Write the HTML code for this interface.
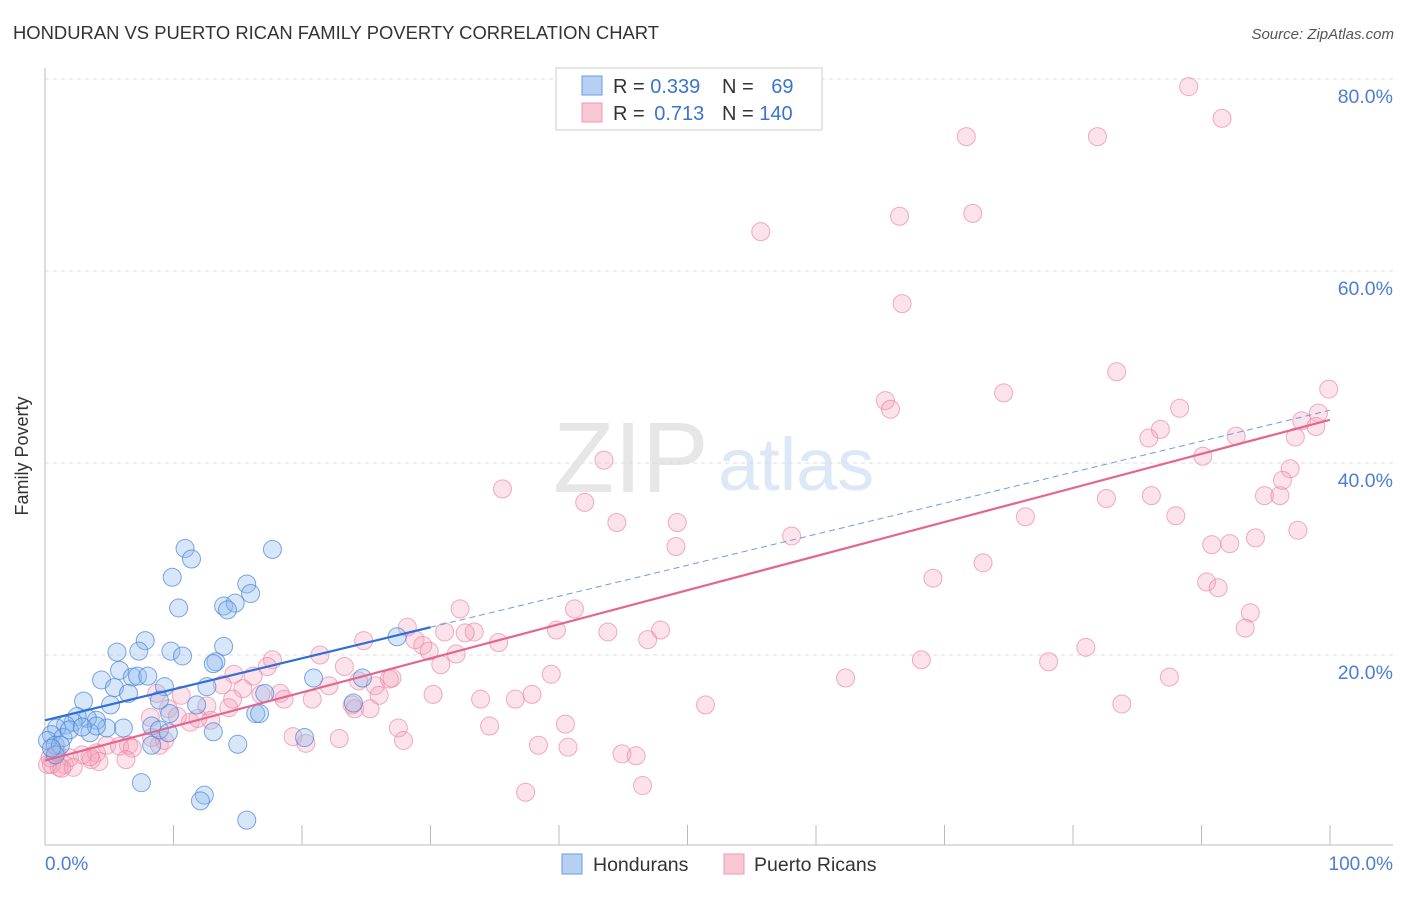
<!DOCTYPE html>
<html><head><meta charset="utf-8"><style>
body{margin:0;background:#fff;font-family:"Liberation Sans",sans-serif}
svg text{font-family:"Liberation Sans",sans-serif}
</style></head><body>
<svg id="chart" width="1406" height="892" xmlns="http://www.w3.org/2000/svg">
<text x="13" y="39" font-size="18" fill="#333" textLength="646" lengthAdjust="spacingAndGlyphs">HONDURAN VS PUERTO RICAN FAMILY POVERTY CORRELATION CHART</text>
<text x="1394" y="39" font-size="15" fill="#555" font-style="italic" text-anchor="end">Source: ZipAtlas.com</text>
<g>
<text x="553" y="492" font-size="100" fill="#e6e6e6" font-family="Liberation Serif,serif">ZIP</text>
<text x="718" y="490" font-size="74" fill="#dce8f6">atlas</text>
</g>
<g id="grid"></g>
<line x1="45" y1="68" x2="45" y2="845" stroke="#bbb"/>
<line x1="45" y1="845" x2="1393" y2="845" stroke="#bbb"/>
<g id="xticks"></g>
<text x="28" y="456" font-size="18" fill="#333" text-anchor="middle" transform="rotate(-90 28 456)">Family Poverty</text>
<text x="45" y="870" font-size="19" fill="#4a7fd4">0.0%</text>
<text x="1393" y="870" font-size="19" fill="#4a7fd4" text-anchor="end">100.0%</text>
<g id="pts"></g>
<g id="fits"></g>
<g>
<rect x="556" y="68" width="266" height="62" fill="#fff" stroke="#ccc"/>
<rect x="582" y="76" width="20" height="19" fill="#b5d0f3" stroke="#6b9ae0"/>
<rect x="582" y="103" width="20" height="19" fill="#f9c6d4" stroke="#ec9ab4"/>
<text x="613" y="93" font-size="20" fill="#333">R = <tspan fill="#3a74cf">0.339</tspan></text>
<text x="722" y="93" font-size="20" fill="#333">N = <tspan fill="#3a74cf" dx="12">69</tspan></text>
<text x="613" y="120" font-size="20" fill="#333">R = <tspan fill="#3a74cf" dx="4">0.713</tspan></text>
<text x="722" y="120" font-size="20" fill="#333">N = <tspan fill="#3a74cf">140</tspan></text>
</g>
<g>
<rect x="562" y="854" width="20" height="20" fill="#b5d0f3" stroke="#6b9ae0"/>
<text x="593" y="871" font-size="19.5" fill="#333">Hondurans</text>
<rect x="724" y="854" width="20" height="20" fill="#f9c6d4" stroke="#ec9ab4"/>
<text x="754" y="871" font-size="19.5" fill="#333">Puerto Ricans</text>
</g>
</svg>
<script>
const yTicks=[20,40,60,80];
const xTickVals=[10,20,30,40,50,60,70,80,90,100];
const blueX=[10.9,11.4,9.9,17.7,15.7,16.0,13.9,14.8,14.2,10.4,7.8,13.9,9.8,10.7,13.3,13.1,5.6,7.3,4.4,5.8,6.8,7.2,8.0,9.3,5.4,6.5,3.0,5.1,12.6,17.1,20.9,24.7,27.4,11.8,9.7,8.3,6.1,4.8,4.0,3.3,2.5,2.2,1.6,0.9,0.5,0.2,0.8,1.4,3.5,1.9,8.9,13.1,16.4,16.7,9.6,8.3,15.0,20.2,24.0,7.5,12.4,12.1,15.7,4.0,2.9,1.2,0.8,0.5,8.9];
const blueY=[31.1,30.0,28.1,31.0,27.4,26.4,25.1,25.4,24.7,24.9,21.5,20.9,20.4,19.9,19.3,19.1,20.3,20.4,17.4,18.4,17.7,17.8,17.8,16.7,16.6,16.0,15.2,14.8,16.7,16.0,17.6,17.6,21.9,14.8,13.9,12.6,12.4,12.4,13.2,13.4,13.6,13.0,12.7,12.4,11.7,11.1,10.6,11.4,11.9,12.2,12.2,12.0,13.9,13.9,11.9,10.6,10.7,11.4,15.0,6.7,5.4,4.8,2.8,12.6,12.5,10.6,9.6,10.3,15.3];
const pinkX=[89.0,91.6,71.7,81.9,72.2,66.5,55.7,66.7,83.4,74.6,65.4,65.8,88.3,86.8,85.9,92.7,97.8,99.1,99.9,98.9,97.3,90.1,43.5,35.6,82.6,86.1,42.0,94.9,96.1,96.9,96.3,88.0,76.3,44.5,49.2,97.5,94.2,92.2,90.8,49.1,58.1,73.0,69.1,90.4,91.3,93.8,93.4,32.3,41.2,28.2,47.9,39.8,43.8,33.4,32.7,31.1,46.9,35.3,28.8,29.4,29.9,24.8,32.0,21.4,17.7,17.3,81.0,78.1,68.2,87.5,62.3,39.4,30.8,23.3,14.7,15.4,16.2,16.8,13.8,10.6,8.7,9.6,11.3,12.6,14.6,18.3,18.6,20.8,22.1,24.4,25.7,26.8,27.0,26.0,30.2,23.9,24.1,25.3,33.9,36.6,37.9,51.4,83.8,34.6,40.5,8.2,10.3,11.9,14.3,12.9,27.5,27.9,19.3,20.3,22.9,8.3,8.9,9.3,6.5,4.8,5.8,6.8,4.0,3.6,2.9,6.3,4.2,38.4,40.7,44.9,46.0,46.5,37.4,3.5,1.9,1.5,1.1,0.5,0.2,2.2,1.3,0.4,0.9];
const pinkY=[79.2,75.9,74.0,74.0,66.0,65.7,64.1,56.6,49.5,47.3,46.5,45.6,45.7,43.5,42.6,42.8,44.4,45.2,47.7,43.8,42.7,40.7,40.3,37.3,36.3,36.6,35.9,36.6,36.6,39.4,38.2,34.5,34.4,33.8,33.8,33.0,32.2,31.6,31.5,31.3,32.4,29.6,28.0,27.6,27.0,24.4,22.8,24.8,24.8,22.9,22.6,22.6,22.4,22.4,22.3,22.4,21.6,21.3,21.6,21.0,20.4,21.5,20.1,20.0,19.5,18.8,20.8,19.3,19.5,17.7,17.6,18.0,19.0,18.8,18.0,16.5,17.8,15.9,16.9,15.8,16.0,14.4,13.0,14.7,15.4,16.0,15.4,15.4,16.8,17.3,16.8,17.5,17.6,15.8,15.9,14.8,14.4,14.4,15.4,15.4,15.9,14.8,14.9,12.6,12.8,13.5,13.6,13.4,14.5,13.2,12.4,11.1,11.5,10.8,11.3,11.4,10.6,11.1,10.6,10.6,10.5,10.3,9.8,9.1,9.6,9.1,8.9,10.6,10.4,9.7,9.5,6.4,5.7,9.4,9.3,8.6,8.3,8.6,8.6,8.3,8.2,9.3,9.9];
const blueFit=[13.2,0.323];
const pinkFit=[9.0,0.355];
const NS="http://www.w3.org/2000/svg";
const xs=v=>45+v*12.85, ys=v=>847-v*9.6;
function mk(t,a,p){const e=document.createElementNS(NS,t);for(const k in a)e.setAttribute(k,a[k]);p.appendChild(e);return e;}
const grid=document.getElementById('grid');
yTicks.forEach(t=>{
 const l=mk('line',{x1:45,x2:1393,y1:ys(t),y2:ys(t),stroke:'#ddd','stroke-dasharray':'4,4'},grid);
 
 
 const tx=mk('text',{x:1393,y:ys(t)+24,'font-size':19.5,fill:'#4a7fd4','text-anchor':'end'},grid);
 tx.textContent=t.toFixed(1)+'%';
 
 
});
const xt=document.getElementById('xticks');
xTickVals.forEach(t=>{
 const l=mk('line',{x1:xs(t),x2:xs(t),y1:825,y2:845,stroke:'#bbb'},xt);
 
 
});
const pts=document.getElementById('pts');
pinkX.forEach((x,i)=>{
 const c=mk('circle',{cx:xs(x),cy:ys(pinkY[i]),r:9,fill:'rgba(244,160,186,0.3)',stroke:'rgba(232,130,162,0.65)','stroke-width':1},pts);
 
 
});
blueX.forEach((x,i)=>{
 const c=mk('circle',{cx:xs(x),cy:ys(blueY[i]),r:9,fill:'rgba(140,185,238,0.35)',stroke:'rgba(70,130,215,0.7)','stroke-width':1},pts);
 
 
});
const fits=document.getElementById('fits');
const bl=mk('line',{x1:xs(0),y1:ys(blueFit[0]),x2:xs(30),y2:ys(blueFit[0]+blueFit[1]*30),stroke:'#2f6fd6','stroke-width':2.2},fits);


const bd=mk('line',{x1:xs(30),y1:ys(blueFit[0]+blueFit[1]*30),x2:xs(100),y2:ys(blueFit[0]+blueFit[1]*100),stroke:'#6e9be0','stroke-width':1,'stroke-dasharray':'6,4'},fits);


const pl=mk('line',{x1:xs(0),y1:ys(pinkFit[0]),x2:xs(100),y2:ys(pinkFit[0]+pinkFit[1]*100),stroke:'#e4668f','stroke-width':2.2},fits);


</script>
</body></html>
